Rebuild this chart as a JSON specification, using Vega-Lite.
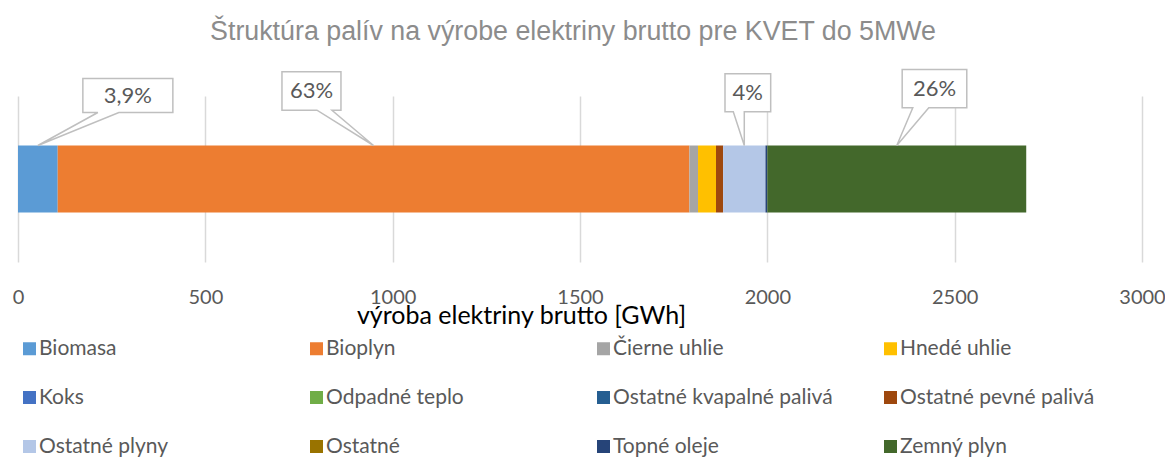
{
  "$schema": "https://vega.github.io/schema/vega-lite/v6.json",
  "width": 1124,
  "height": 166,
  "autosize": {"type": "none"},
  "padding": {"left": 18, "top": 96, "right": 23, "bottom": 195},
  "background": "white",
  "title": {"text": "Štruktúra palív na výrobe elektriny brutto pre KVET do 5MWe", "font": "Liberation Sans", "fontSize": 26.8, "fontWeight": "normal", "color": "#8C8C8C", "anchor": "middle", "offset": 21, "dx": -7},
  "config": {"view": {"stroke": null}, "font": "Lato"},
  "data": {"values": [
    {"fuel": "Biomasa", "value": 106, "order": 1, "label": "3,9%"},
    {"fuel": "Bioplyn", "value": 1686, "order": 2, "label": "63%"},
    {"fuel": "Čierne uhlie", "value": 23, "order": 3, "label": ""},
    {"fuel": "Hnedé uhlie", "value": 48, "order": 4, "label": ""},
    {"fuel": "Koks", "value": 0, "order": 5, "label": ""},
    {"fuel": "Odpadné teplo", "value": 0, "order": 6, "label": ""},
    {"fuel": "Ostatné kvapalné palivá", "value": 0, "order": 7, "label": ""},
    {"fuel": "Ostatné pevné palivá", "value": 19, "order": 8, "label": ""},
    {"fuel": "Ostatné plyny", "value": 113, "order": 9, "label": "4%"},
    {"fuel": "Ostatné", "value": 0, "order": 10, "label": ""},
    {"fuel": "Topné oleje", "value": 5, "order": 11, "label": ""},
    {"fuel": "Zemný plyn", "value": 691, "order": 12, "label": "26%"}
  ]},
  "transform": [
    {"stack": "value", "groupby": [], "sort": [{"field": "order", "order": "ascending"}], "as": ["x0", "x1"]},
    {"calculate": "(datum.x0 + datum.x1) / 2", "as": "mid"}
  ],
  "encoding": {"y": {"datum": "KVET", "type": "nominal", "axis": null}},
  "layer": [
    {
      "mark": {"type": "bar", "size": 67},
      "encoding": {
        "x": {"field": "x0", "type": "quantitative", "scale": {"domain": [0, 3000], "nice": false},
          "axis": {"values": [0, 500, 1000, 1500, 2000, 2500, 3000], "format": "d", "labelFlush": false, "grid": true, "gridColor": "#D9D9D9", "gridWidth": 1.5, "domain": false, "ticks": false,
            "labelFont": "Lato", "labelFontSize": 20, "labelColor": "#595959", "labelPadding": 25,
            "title": "výroba elektriny brutto [GWh]", "titleFont": "Lato", "titleFontSize": 25, "titleFontWeight": "normal", "titleColor": "#000000",
            "titleX": 503, "titleY": 53, "titleAlign": "center", "titleBaseline": "middle"}},
        "x2": {"field": "x1"},
        "color": {"field": "fuel", "type": "nominal",
          "scale": {"domain": ["Biomasa", "Bioplyn", "Čierne uhlie", "Hnedé uhlie", "Koks", "Odpadné teplo", "Ostatné kvapalné palivá", "Ostatné pevné palivá", "Ostatné plyny", "Ostatné", "Topné oleje", "Zemný plyn"],
            "range": ["#5B9BD5", "#ED7D31", "#A5A5A5", "#FFC000", "#4472C4", "#70AD47", "#255E91", "#9E480E", "#B4C7E7", "#997300", "#264478", "#43682B"]},
          "legend": {"orient": "none", "legendX": 1, "legendY": 242, "direction": "horizontal", "columns": 4, "title": null,
            "symbolType": "square", "symbolSize": 169, "symbolStrokeWidth": 0, "labelFont": "Lato", "labelFontSize": 21, "labelColor": "#595959",
            "labelLimit": 400, "labelOffset": -1, "columnPadding": 47, "rowPadding": 27, "gridAlign": "all"}}
      }
    },
    {
      "transform": [{"filter": "datum.fuel === 'Biomasa'"}],
      "mark": {"type": "point", "shape": "M0,-33.5L60,-66.5L45,-66.5L45,-100.5L135,-100.5L135,-66.5L81,-66.5Z", "size": 4, "filled": true, "fill": "white", "stroke": "#BFBFBF", "strokeWidth": 1.5, "opacity": 1},
      "encoding": {"x": {"field": "mid", "type": "quantitative"}}
    },
    {
      "transform": [{"filter": "datum.fuel === 'Bioplyn'"}],
      "mark": {"type": "point", "shape": "M0,-33.5L-41.6,-68.8L-32.6,-68.8L-32.6,-107.2L-91.6,-107.2L-91.6,-68.8L-56.6,-68.8Z", "size": 4, "filled": true, "fill": "white", "stroke": "#BFBFBF", "strokeWidth": 1.5, "opacity": 1},
      "encoding": {"x": {"field": "mid", "type": "quantitative"}}
    },
    {
      "transform": [{"filter": "datum.fuel === 'Ostatné plyny'"}],
      "mark": {"type": "point", "shape": "M0,-33.5L0,-67.2L26.4,-67.2L26.4,-105.2L-19.3,-105.2L-19.3,-67.2L-11,-67.2Z", "size": 4, "filled": true, "fill": "white", "stroke": "#BFBFBF", "strokeWidth": 1.5, "opacity": 1},
      "encoding": {"x": {"field": "mid", "type": "quantitative"}}
    },
    {
      "transform": [{"filter": "datum.fuel === 'Zemný plyn'"}],
      "mark": {"type": "point", "shape": "M0,-33.5L16,-71.2L5.4,-71.2L5.4,-109.5L70,-109.5L70,-71.2L32,-71.2Z", "size": 4, "filled": true, "fill": "white", "stroke": "#BFBFBF", "strokeWidth": 1.5, "opacity": 1},
      "encoding": {"x": {"field": "mid", "type": "quantitative"}}
    },
    {
      "transform": [{"filter": "datum.fuel === 'Biomasa'"}],
      "mark": {"type": "text", "dx": 90, "dy": -83.5, "font": "Lato", "fontSize": 22, "color": "#595959"},
      "encoding": {"x": {"field": "mid", "type": "quantitative"}, "text": {"field": "label"}}
    },
    {
      "transform": [{"filter": "datum.fuel === 'Bioplyn'"}],
      "mark": {"type": "text", "dx": -62, "dy": -88, "font": "Lato", "fontSize": 22, "color": "#595959"},
      "encoding": {"x": {"field": "mid", "type": "quantitative"}, "text": {"field": "label"}}
    },
    {
      "transform": [{"filter": "datum.fuel === 'Ostatné plyny'"}],
      "mark": {"type": "text", "dx": 3.5, "dy": -86.2, "font": "Lato", "fontSize": 22, "color": "#595959"},
      "encoding": {"x": {"field": "mid", "type": "quantitative"}, "text": {"field": "label"}}
    },
    {
      "transform": [{"filter": "datum.fuel === 'Zemný plyn'"}],
      "mark": {"type": "text", "dx": 37.7, "dy": -90.3, "font": "Lato", "fontSize": 22, "color": "#595959"},
      "encoding": {"x": {"field": "mid", "type": "quantitative"}, "text": {"field": "label"}}
    }
  ]
}
